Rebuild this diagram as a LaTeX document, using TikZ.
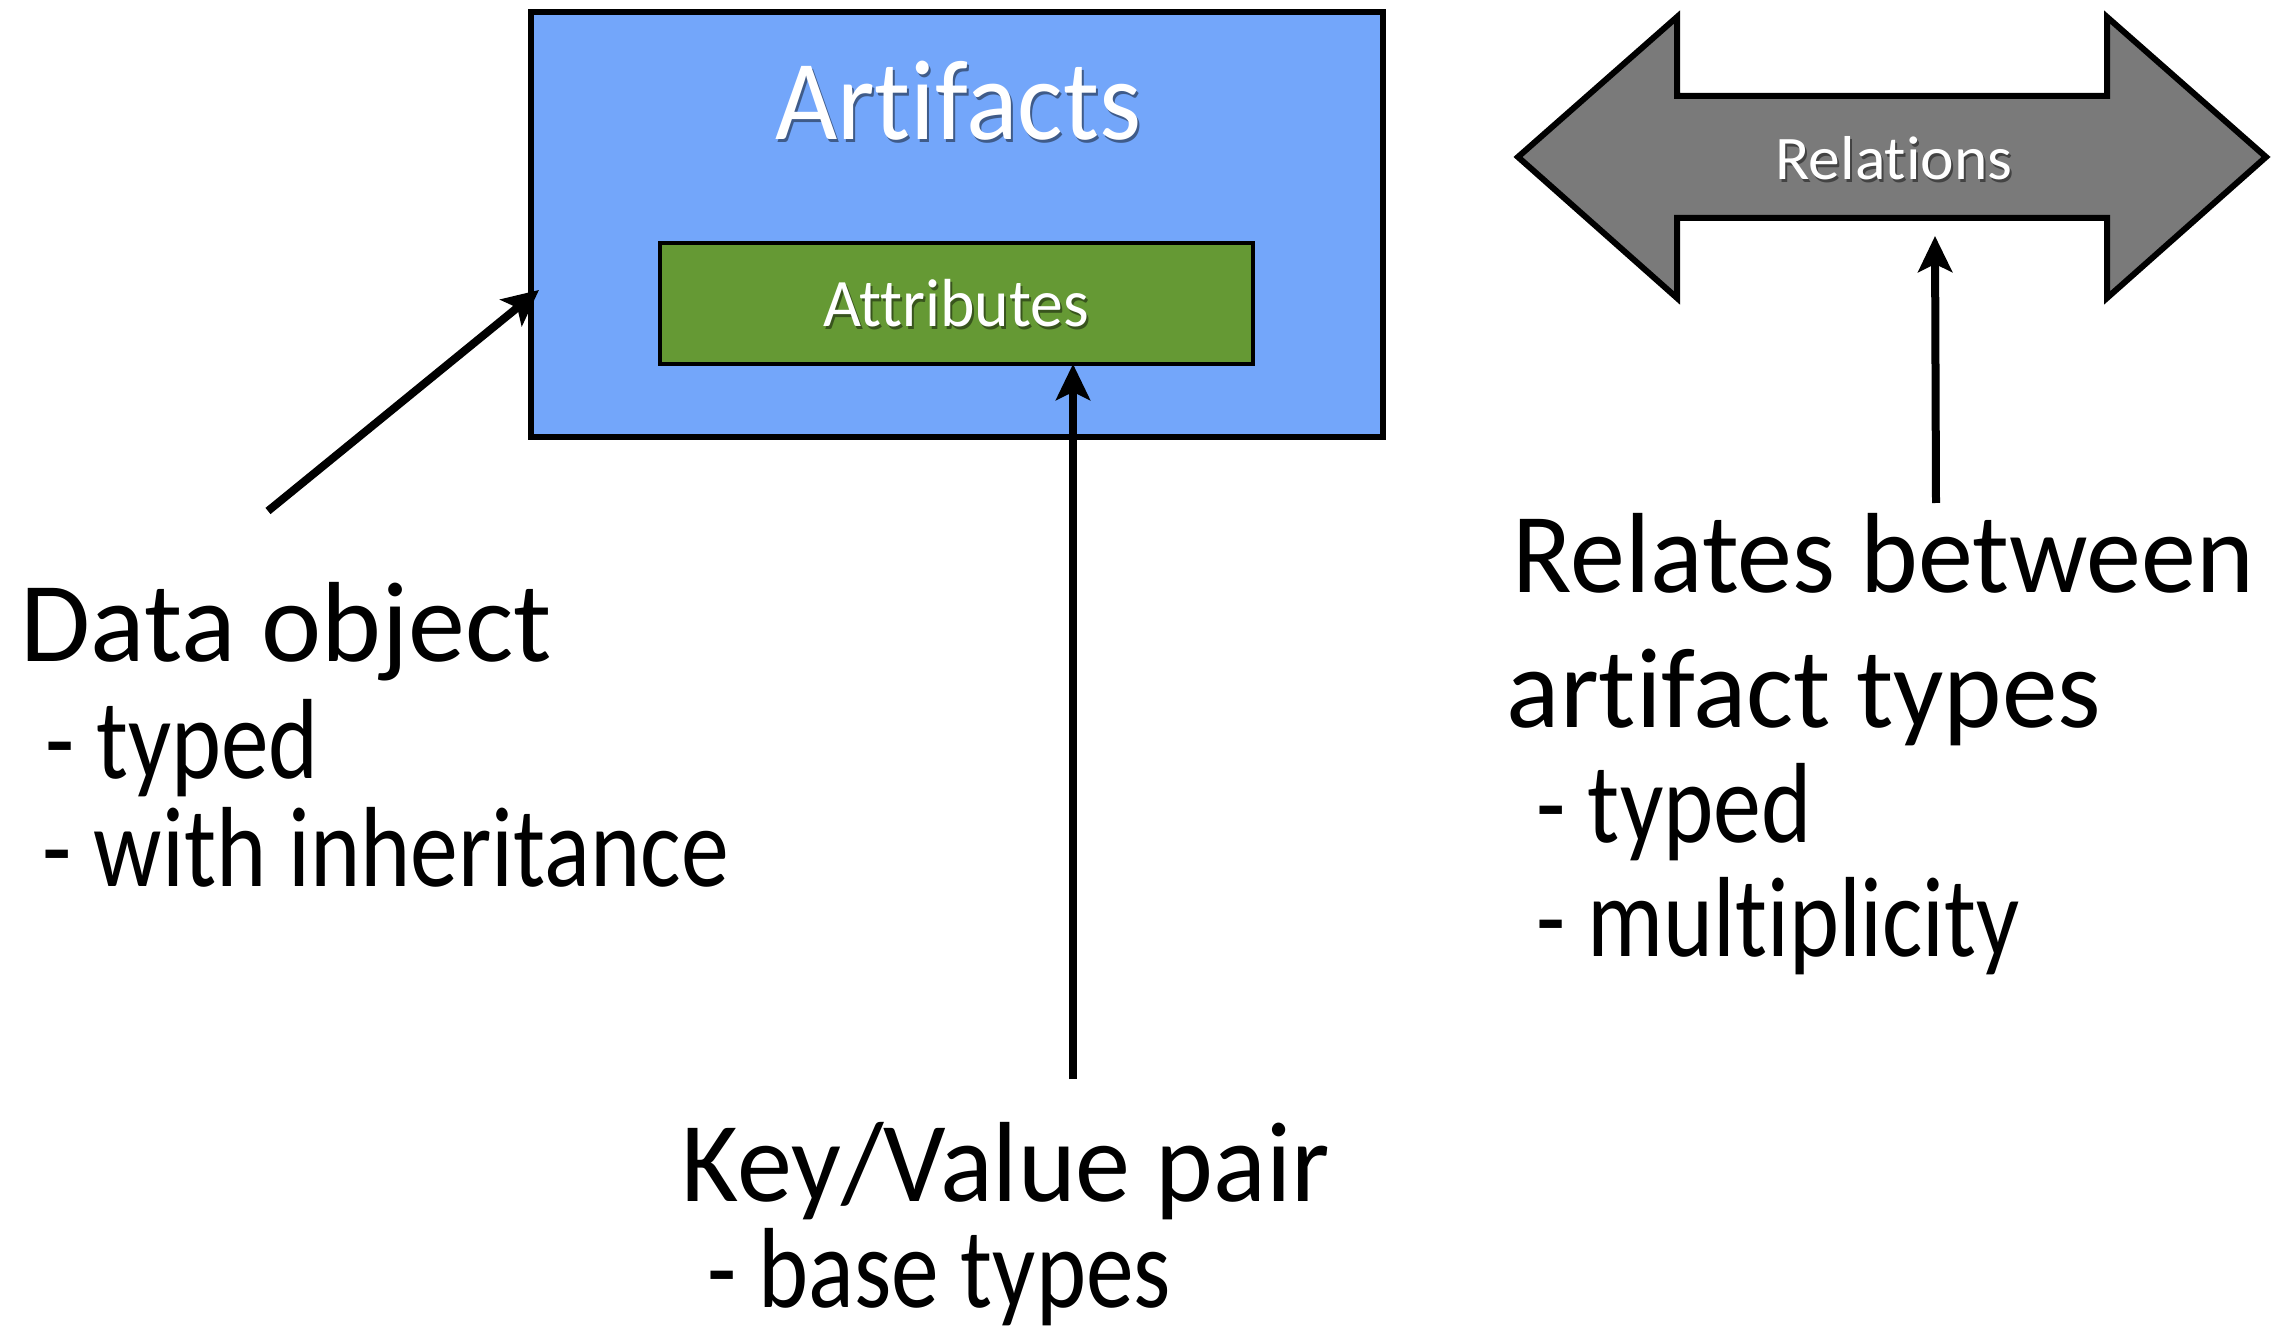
\documentclass[tikz,border=0pt]{standalone}
\usepackage{fontspec}
\setmainfont{Carlito}[Ligatures=NoCommon]
\usetikzlibrary{arrows.meta,calc}
\definecolor{artblue}{RGB}{115,166,250}
\definecolor{attrgreen}{RGB}{101,153,52}
\definecolor{relgray}{RGB}{122,122,122}
% set a line to a given width, keeping its height
\newcommand\fitto[2]{\resizebox{#1}{\height}{#2}}
% white text with a soft darker copy behind it
\newcommand\shadowtext[2]{\leavevmode\rlap{\kern1pt\raisebox{-1.5pt}{\textcolor{#1!55!black}{#2}}}#2}
\begin{document}
\begin{tikzpicture}[x=0.5pt,y=-0.5pt,
  conn/.style={line width=4pt,-{Stealth[length=18pt,width=17pt,inset=4pt]}},
  textline/.style={font=\fontsize{57}{60}\selectfont,anchor=base west,inner sep=0pt},
  boxtext/.style={text=white,inner sep=0pt,anchor=base}]
\useasboundingbox (0,0) rectangle (2271,1336);

% artifact box with its attribute compartment
\node[draw=black,line width=3pt,fill=artblue,minimum width=426pt,minimum height=212.5pt,
      anchor=north west,inner sep=0pt,outer sep=0pt] (art) at (531,12) {};
\node[boxtext,font=\fontsize{57}{60}\selectfont] (artlabel) at (958,140)
  {\shadowtext{artblue}{\fitto{183pt}{Artifacts}}};
\node[draw=black,line width=1.6pt,fill=attrgreen,minimum width=296.5pt,minimum height=60.5pt,
      anchor=north west,inner sep=0pt,outer sep=0pt] (attr) at (660,243) {};
\node[boxtext,font=\fontsize{34}{36}\selectfont] (attrlabel) at (956,327)
  {\shadowtext{attrgreen}{\fitto{133pt}{Attributes}}};

% relation: a double-headed block arrow
\filldraw[fill=relgray,draw=black,line width=3pt,line join=miter]
  (1518,157) -- (1677,17) -- (1677,96) -- (2107,96) -- (2107,17) -- (2266,157)
  -- (2107,298) -- (2107,218) -- (1677,218) -- (1677,298) -- cycle;
\node[boxtext,font=\fontsize{31}{33}\selectfont] (rel) at (1894,180)
  {\shadowtext{relgray}{\fitto{118.5pt}{Relations}}};

% explanations
\node[textline] (dobj1) at (20.5,662) {\fitto{265.5pt}{Data object}};
\node[textline] (dobj2) at (45.5,778) {\fitto{136.5pt}{- typed}};
\node[textline] (dobj3) at (42.5,886) {\fitto{343pt}{- with inheritance}};

\node[textline] (kv1) at (681.5,1201) {\fitto{324pt}{Key/Value pair}};
\node[textline] (kv2) at (707.5,1307) {\fitto{231.5pt}{- base types}};

\node[textline] (relt1) at (1512.5,593) {\fitto{370.5pt}{Relates between}};
\node[textline] (relt2) at (1506.5,727) {\fitto{297pt}{artifact types}};
\node[textline] (relt3) at (1536.5,842) {\fitto{137.5pt}{- typed}};
\node[textline] (relt4) at (1536.5,956) {\fitto{241.5pt}{- multiplicity}};

% connectors
\coordinate (dobjtail) at (268,511);
\coordinate (arttip) at (539,290);
\coordinate (kvtail) at (1073,1079);
\coordinate (reltail) at (1936,503);
\coordinate (reltip) at (1935,236);
\draw[conn] (dobjtail) -- (arttip);
\draw[conn] (kvtail) -- (kvtail |- attr.south);
\draw[conn] (reltail) -- (reltip);
\end{tikzpicture}
\end{document}
